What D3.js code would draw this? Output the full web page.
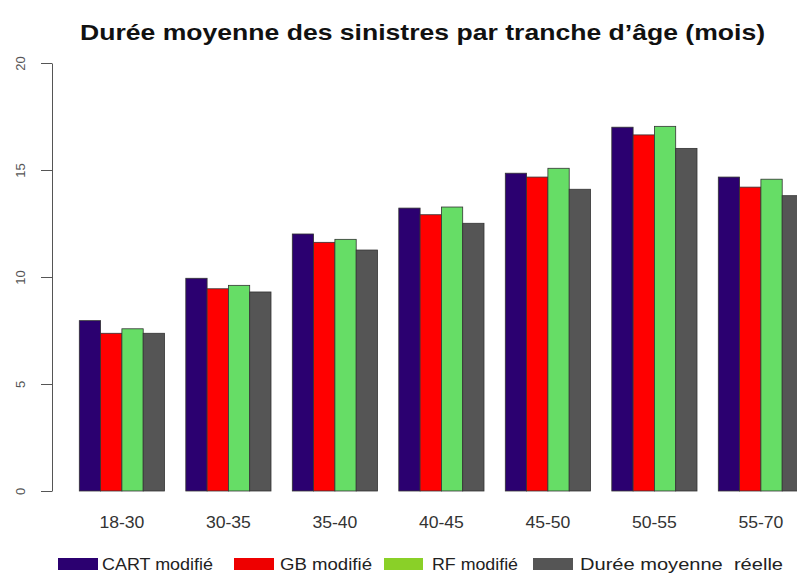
<!DOCTYPE html>
<html>
<head>
<meta charset="utf-8">
<script src="https://cdn.jsdelivr.net/npm/d3@7"></script>
<style>
  body { margin: 0; background: #fff; }
  svg { display: block; font-family: "Liberation Sans", Arial, sans-serif; }
</style>
</head>
<body>
<script>
const W = 797, H = 575;

const ages = ["18-30", "30-35", "35-40", "40-45", "45-50", "50-55", "55-70"];
const series = ["CART modifié", "GB modifié", "RF modifié", "Durée moyenne  réelle"];
const cart = [7.96, 9.94, 12.01, 13.22, 14.85, 17.0, 14.67];
const gb = [7.37, 9.45, 11.62, 12.91, 14.67, 16.64, 14.2];
const rf = [7.58, 9.61, 11.76, 13.27, 15.08, 17.04, 14.57];
const reel = [7.37, 9.3, 11.26, 12.51, 14.1, 16.01, 13.8];
const yTicks = [0, 5, 10, 15, 20];

const barColors = ["#2b0070", "#ff0000", "#66dd66", "#555555"];
const legendColors = ["#2b0070", "#ee0000", "#8ad028", "#555555"];
const values = [cart, gb, rf, reel];

const svg = d3.select("body").append("svg")
    .attr("width", W)
    .attr("height", H);

// the source image is stretched horizontally, so fit texts to measured widths
svg.append("text")
    .attr("x", 80)
    .attr("y", 40)
    .attr("font-weight", "bold")
    .attr("font-size", 22)
    .attr("fill", "#111")
    .attr("textLength", 685)
    .attr("lengthAdjust", "spacingAndGlyphs")
    .text("Durée moyenne des sinistres par tranche d’âge (mois)");

const y = d3.scaleLinear().domain([0, 20]).range([491, 63]);

// groups spaced like R barplot(beside=TRUE): one bar gap between groups
const x0 = d3.scaleBand().domain(ages)
    .range([68.65, 68.65 + 745.5])
    .paddingInner(0.2)
    .paddingOuter(0.1);
const x1 = d3.scaleBand().domain(d3.range(series.length))
    .range([0, x0.bandwidth()]);

const groups = svg.append("g").selectAll("g")
    .data(ages)
    .join("g")
    .attr("transform", d => `translate(${x0(d)},0)`);

groups.selectAll("rect")
    .data((d, i) => values.map((s, k) => ({ k, v: s[i] })))
    .join("rect")
    .attr("x", d => x1(d.k))
    .attr("y", d => y(d.v))
    .attr("width", x1.bandwidth())
    .attr("height", d => y(0) - y(d.v))
    .attr("fill", d => barColors[d.k])
    .attr("stroke", "#333")
    .attr("stroke-width", 0.8);

// y axis
const yAxis = svg.append("g")
    .attr("transform", "translate(52,0)")
    .call(d3.axisLeft(y).tickValues(yTicks).tickSize(11).tickSizeOuter(0));
yAxis.select(".domain").attr("stroke", "#555");
yAxis.selectAll(".tick line").attr("stroke", "#555");
yAxis.selectAll(".tick text")
    .attr("font-size", 13)
    .attr("fill", "#555")
    .attr("transform", "rotate(-90)")
    .attr("x", 0)
    .attr("y", -32)
    .attr("dy", "0.35em")
    .attr("text-anchor", "middle");

// category labels
svg.append("g").selectAll("text")
    .data(ages)
    .join("text")
    .attr("x", d => x0(d) + x0.bandwidth() / 2)
    .attr("y", 528)
    .attr("text-anchor", "middle")
    .attr("font-size", 16)
    .attr("fill", "#333")
    .attr("textLength", 45)
    .attr("lengthAdjust", "spacingAndGlyphs")
    .text(d => d);

// legend
const legX = [58, 234, 384, 533];
const legW = [40, 40, 39, 40];
const legTextX = [102, 280, 432, 580];
const legTextW = [111, 92, 86, 203];
const leg = svg.append("g");
leg.selectAll("rect")
    .data(series)
    .join("rect")
    .attr("x", (d, i) => legX[i])
    .attr("y", 558)
    .attr("width", (d, i) => legW[i])
    .attr("height", 12)
    .attr("fill", (d, i) => legendColors[i]);
leg.selectAll("text")
    .data(series)
    .join("text")
    .attr("x", (d, i) => legTextX[i])
    .attr("y", 570)
    .attr("font-size", 17)
    .attr("fill", "#222")
    .attr("textLength", (d, i) => legTextW[i])
    .attr("lengthAdjust", "spacingAndGlyphs")
    .style("white-space", "pre")
    .text(d => d);
</script>
</body>
</html>
